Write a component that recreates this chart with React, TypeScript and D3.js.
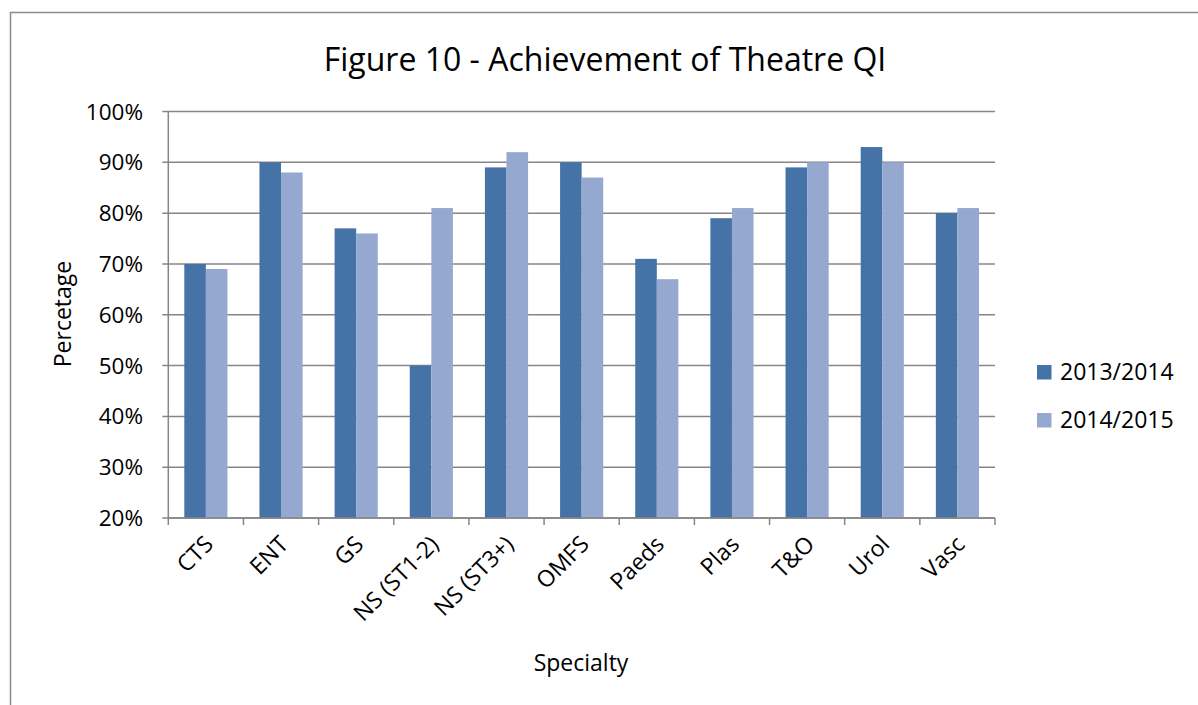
import React from "react";
import * as d3 from "d3";

const categories = ["CTS", "ENT", "GS", "NS (ST1-2)", "NS (ST3+)", "OMFS", "Paeds", "Plas", "T&O", "Urol", "Vasc"];
const series2013 = [70, 90, 77, 50, 89, 90, 71, 79, 89, 93, 80];
const series2014 = [69, 88, 76, 81, 92, 87, 67, 81, 90, 90, 81];
const seriesNames = ["2013/2014", "2014/2015"];
const yTicks = [20, 30, 40, 50, 60, 70, 80, 90, 100];

const COLORS = ["#4572A7", "#95A9D0"];
const FONT = "'Open Sans', 'Liberation Sans', sans-serif";
const GRID = "#868686";

export default function App() {
  const W = 1198, H = 705;
  const left = 168.3, right = 995, top = 111.5, bottom = 518;
  const x = d3.scaleBand<string>().domain(categories).range([left, right]).paddingInner(0).paddingOuter(0);
  const y = d3.scaleLinear().domain([20, 100]).range([bottom, top]);
  const bw = x.bandwidth();
  const inner = d3.scaleBand<number>().domain([0, 1]).range([16, bw - 16]).padding(0);
  const series = [series2013, series2014];

  return (
    <svg width={W} height={H} style={{ position: "absolute", left: 0, top: 0 }} fontFamily={FONT}>
      <rect x={0} y={0} width={W} height={H} fill="#fff" />
      <path d={`M10.5,${H + 5} V12.5 H${W + 5}`} fill="none" stroke="#8c8c8c" strokeWidth={1.5} />
      <text x={605} y={71} textAnchor="middle" fontSize={32} fill="#000">Figure 10 - Achievement of Theatre QI</text>

      {yTicks.map((t) => (
        <g key={t}>
          <line x1={left - 6} x2={right} y1={y(t)} y2={y(t)} stroke={GRID} strokeWidth={1.5} />
          <text x={143} y={y(t)} dy="0.36em" textAnchor="end" fontSize={22.5} fill="#000">{t}%</text>
        </g>
      ))}
      <line x1={left} x2={left} y1={top} y2={bottom} stroke={GRID} strokeWidth={1.5} />

      {series.map((vals, si) =>
        categories.map((c, ci) => {
          const bx = (x(c) as number) + (inner(si) as number);
          return (
            <rect key={`${si}-${ci}`} x={bx} y={y(vals[ci])} width={inner.bandwidth()} height={bottom - y(vals[ci])} fill={COLORS[si]} />
          );
        })
      )}

      <line x1={left} x2={right} y1={bottom} y2={bottom} stroke={GRID} strokeWidth={1.5} />
      {[...categories.map((c) => x(c) as number), right].map((px, i) => (
        <line key={i} x1={px} x2={px} y1={bottom} y2={bottom + 7} stroke={GRID} strokeWidth={1.5} />
      ))}
      {categories.map((c) => {
        const cx = (x(c) as number) + bw / 2 + 3;
        const cy = 540;
        return (
          <text key={c} x={cx} y={cy} textAnchor="end" fontSize={23} fill="#000" transform={`rotate(-45 ${cx} ${cy})`} dy="0.35em">{c}</text>
        );
      })}

      <text x={581} y={663} dy="0.35em" textAnchor="middle" fontSize={23} fill="#000">Specialty</text>
      <text transform={`translate(63 314) rotate(-90)`} dy="0.35em" textAnchor="middle" fontSize={23} fill="#000">Percetage</text>

      {seriesNames.map((n, i) => (
        <g key={n}>
          <rect x={1037} y={365 + i * 48} width={14.5} height={14.5} fill={COLORS[i]} />
          <text x={1060} y={372 + i * 48} dy="0.36em" fontSize={23} fill="#000">{n}</text>
        </g>
      ))}
    </svg>
  );
}
